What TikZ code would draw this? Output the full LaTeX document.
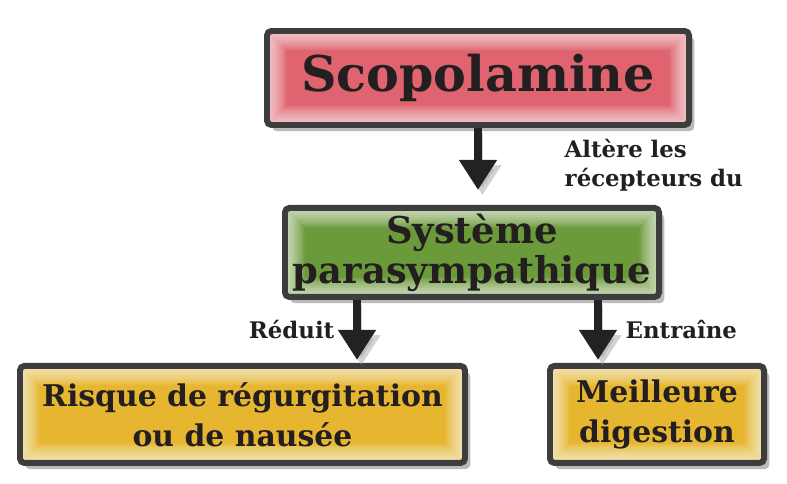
\documentclass[tikz,border=0pt]{standalone}
\usepackage{fontspec}
\setmainfont{DejaVu Serif}
\usetikzlibrary{calc, positioning, arrows.meta, shadows}

\definecolor{boxborder}{HTML}{3D3D3D}
\definecolor{scopred}{HTML}{E0646F}
\definecolor{paragreen}{HTML}{6B9A3A}
\definecolor{effectgold}{HTML}{E6B630}
\definecolor{arrowdark}{HTML}{222222}
\definecolor{inktext}{HTML}{231F20}

\tikzset{
  glowbox/.style={draw=boxborder, line width=3.4pt, rounded corners=2.5pt, fill=#1,
    align=center, text=inktext, inner sep=0pt,
    drop shadow={shadow xshift=3pt, shadow yshift=-3.5pt, opacity=0.45, fill=black!60},
    path picture={\foreach \w in {2,4,...,22}{
      \draw[white, opacity=0.09, line width=\w pt]
        (path picture bounding box.south west) rectangle (path picture bounding box.north east);}}},
  flow/.style={draw=arrowdark, line width=0.16cm, -{Triangle[width=0.72cm, length=0.6cm]},
    preaction={draw=black!35, opacity=0.5, transform canvas={shift={(2.5pt,-3pt)}}}},
  lbl/.style={font=\bfseries\fontsize{13}{16.4}\selectfont, text=inktext, align=left}
}

\begin{document}
\begin{tikzpicture}
  \useasboundingbox (0,0) rectangle (15.74,9.68);

  % Top: drug
  \node[glowbox=scopred, minimum width=8.44cm, minimum height=1.88cm,
    font=\bfseries\fontsize{28}{34}\selectfont] (scop) at (9.56,8.12) {Scopolamine};

  % Middle: nervous system
  \node[glowbox=paragreen, minimum width=7.48cm, minimum height=1.78cm,
    font=\bfseries\fontsize{21}{22.7}\selectfont,
    below=1.54cm of scop, xshift=-0.12cm] (sys) {Système\\parasympathique};

  % Bottom: effects
  \node[glowbox=effectgold, minimum width=8.9cm, minimum height=1.94cm,
    font=\bfseries\fontsize{17}{22.7}\selectfont,
    below=1.26cm of sys, xshift=-4.59cm] (risk) {Risque de régurgitation\\ou de nausée};
  \node[glowbox=effectgold, minimum width=4.28cm, minimum height=1.94cm,
    font=\bfseries\fontsize{17}{22.7}\selectfont,
    below=1.26cm of sys, xshift=3.7cm] (digest) {Meilleure\\digestion};

  % Connections
  \draw[flow, shorten >=0.3cm] (scop.south) -- (scop.south |- sys.north);
  \draw[flow, shorten >=0.06cm] ([xshift=-2.3cm]sys.south) -- ([xshift=-2.3cm]sys.south |- risk.north);
  \draw[flow, shorten >=0.06cm] ([xshift=2.52cm]sys.south) -- ([xshift=2.52cm]sys.south |- digest.north);

  % Labels
  \node[lbl, anchor=west] (alters) at (11.17,6.38) {Altère les\\récepteurs du};
  \node[lbl, anchor=east] (reduces) at (6.81,3.08) {Réduit};
  \node[lbl, anchor=west] (causes) at (12.39,3.08) {Entraîne};
\end{tikzpicture}
\end{document}
